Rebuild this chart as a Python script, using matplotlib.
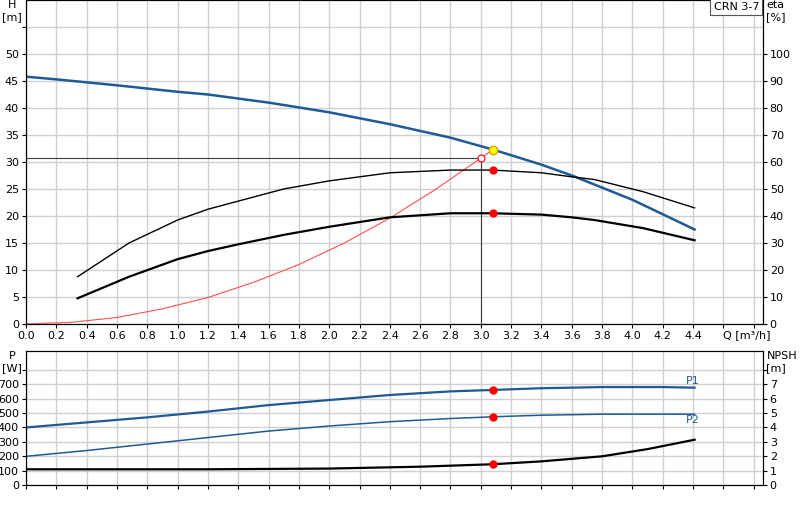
import matplotlib
matplotlib.use("Agg")
import matplotlib.pyplot as plt
import numpy as np

# pump curve H(Q)
q_h = [0, 0.2, 0.6, 1.0, 1.2, 1.6, 2.0, 2.4, 2.8, 3.08, 3.4, 3.6, 4.0, 4.41]
h = [45.8, 45.3, 44.2, 43.0, 42.5, 41.0, 39.2, 37.0, 34.5, 32.3, 29.5, 27.5, 23.0, 17.5]
# efficiency curves [%]
q_eta = [0.34, 0.68, 1.0, 1.2, 1.4, 1.7, 2.0, 2.4, 2.8, 3.08, 3.4, 3.6, 3.75, 4.07, 4.41]
eta_top = [17.5, 30, 38.5, 42.5, 45.5, 50, 53, 56, 57, 57, 56, 54.5, 53.5, 49, 43]
eta_bot = [9.5, 17.5, 24, 27, 29.5, 33, 36, 39.5, 41, 41, 40.5, 39.5, 38.5, 35.5, 31]
# system curve
q_sys = [0, 0.3, 0.6, 0.9, 1.2, 1.5, 1.8, 2.1, 2.4, 2.7, 3.0, 3.08]
h_sys = [0, 0.3, 1.2, 2.8, 4.9, 7.7, 11.0, 15.0, 19.6, 24.9, 30.7, 32.3]
# power
q_p = [0, 0.4, 0.8, 1.2, 1.6, 2.0, 2.4, 2.8, 3.08, 3.4, 3.8, 4.2, 4.41]
p1 = [400, 435, 470, 510, 555, 590, 625, 650, 660, 672, 680, 680, 676]
p2 = [200, 240, 285, 330, 375, 410, 440, 462, 474, 485, 492, 492, 492]
q_npsh = [0, 1.2, 2.0, 2.6, 3.08, 3.4, 3.8, 4.1, 4.41]
npsh = [1.1, 1.1, 1.15, 1.28, 1.45, 1.65, 2.0, 2.5, 3.15]

duty_q, duty_h = 3.08, 32.3
req_q, req_h = 3.0, 30.7

blue = "#1f5a96"
fs = 8
plt.rcParams["font.family"] = ["DejaVu Sans"]
fig = plt.figure(figsize=(8, 5.2), dpi=100)
xmax = 4.86

ax = fig.add_axes([0.0325, 0.377, 0.921, 0.623])
ax.set_xlim(0, xmax)
ax.set_ylim(0, 60)
ax.set_xticks(np.arange(0, 4.81, 0.2))
ax.set_xticklabels([f"{v:.1f}" if v < 4.5 else "" for v in np.arange(0, 4.81, 0.2)], fontsize=fs)
ax.set_yticks(range(0, 56, 5))
ax.set_yticklabels([str(v) if v <= 50 else "" for v in range(0, 56, 5)], fontsize=fs)
ax.grid(True, color="#d0d0d0", lw=1)
ax.tick_params(length=3, pad=2)
ax.text(4.6, -1.2, "Q [m³/h]", fontsize=fs, va="top")
ax.text(-0.09, 60, "H\n[m]", fontsize=fs, va="top", ha="center", clip_on=False)

ax.plot(q_h, h, color=blue, lw=1.8, zorder=4)
ax.plot(q_sys, h_sys, color="#ff5050", lw=0.8, zorder=4)
ax.plot([0, req_q, req_q], [req_h, req_h, 0], color="#404040", lw=0.8, zorder=3)
ax.plot(req_q, req_h, "o", mfc="white", mec="red", ms=5, mew=0.8, zorder=5)
ax.plot(duty_q, duty_h, "o", mfc="yellow", mec="#e0a000", ms=6, zorder=6)

ax2 = ax.twinx()
ax2.set_ylim(0, 120)
ax2.set_yticks(range(0, 101, 10))
ax2.tick_params(labelsize=fs, length=3, pad=2)
ax2.plot(q_eta, eta_top, color="black", lw=1.0)
ax2.plot(q_eta, eta_bot, color="black", lw=1.6)
ax2.plot([duty_q, duty_q], [57, 41], "o", color="red", ms=5, lw=0)
ax2.text(1.005, 1.0, "eta\n[%]", fontsize=fs, va="top", transform=ax.transAxes)
ax2.text(0.995, 0.995, "CRN 3-7", fontsize=fs, ha="right", va="top", transform=ax.transAxes,
         bbox=dict(boxstyle="square,pad=0.3", fc="white", ec="#555555", lw=0.8), zorder=10)

bx = fig.add_axes([0.0325, 0.067, 0.921, 0.258])
bx.set_xlim(0, xmax)
bx.set_ylim(0, 930)
bx.set_xticks(np.arange(0, 4.81, 0.2))
bx.set_xticklabels([])
bx.set_yticks(range(0, 801, 100))
bx.set_yticklabels([str(v) if v <= 700 else "" for v in range(0, 801, 100)], fontsize=fs)
bx.grid(True, color="#d0d0d0", lw=1)
bx.tick_params(length=3, pad=2)
bx.plot(q_p, p1, color=blue, lw=1.6)
bx.plot(q_p, p2, color=blue, lw=1.1)
bx.plot([duty_q, duty_q], [660, 474], "o", color="red", ms=5, lw=0)
bx.text(4.35, 700, "P1", color=blue, fontsize=fs)
bx.text(4.35, 430, "P2", color=blue, fontsize=fs)
bx.text(-0.09, 930, "P\n[W]", fontsize=fs, va="top", ha="center", clip_on=False)

bx2 = bx.twinx()
bx2.set_ylim(0, 9.3)
bx2.set_yticks(range(0, 9))
bx2.set_yticklabels([str(v) if v <= 7 else "" for v in range(0, 9)], fontsize=fs)
bx2.tick_params(length=3, pad=2)
bx2.plot(q_npsh, npsh, color="black", lw=1.6)
bx2.plot(duty_q, 1.45, "o", color="red", ms=5)
bx2.text(1.005, 1.0, "NPSH\n[m]", fontsize=fs, va="top", transform=bx.transAxes)

fig.savefig("out.png", dpi=100)
